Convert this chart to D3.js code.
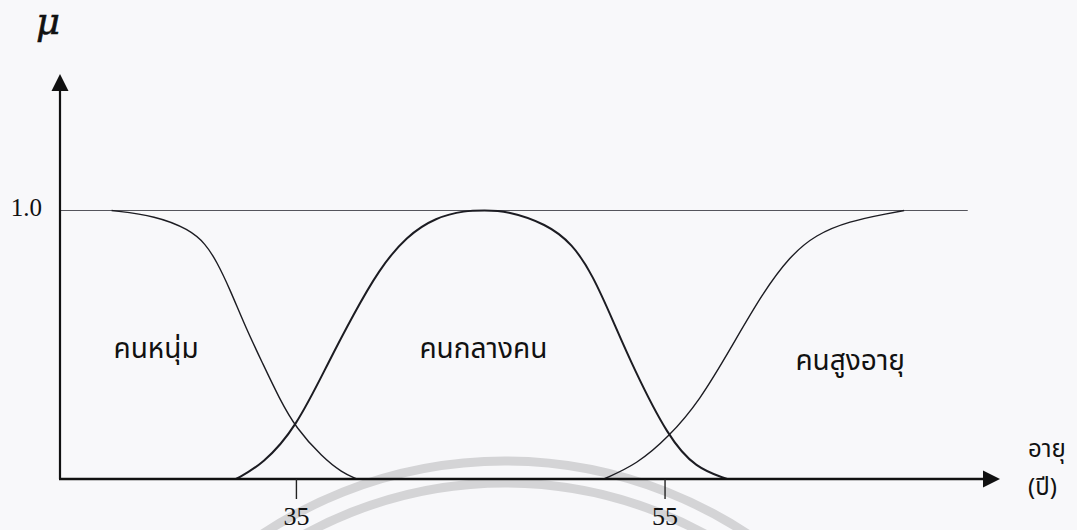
<!DOCTYPE html>
<html>
<head>
<meta charset="utf-8">
<script src="https://cdn.jsdelivr.net/npm/d3@7/dist/d3.min.js"></script>
<style>
  html, body { margin: 0; padding: 0; background: #f8f8fa; }
  svg { display: block; }
  .thai { font-family: "Noto Sans Thai", "Tahoma", "Noto Sans", sans-serif; }
  .serif { font-family: "Liberation Serif", "Times New Roman", serif; }
  .symbol { font-family: "DejaVu Serif", "Liberation Serif", serif; }
</style>
</head>
<body>
<svg id="chart" width="1077" height="530"></svg>
<script>
// Age axis ticks and membership-level tick
const ageTicks = [35, 55];
const muTicks = [1.0];

// Membership functions: age (years) and membership degree μ
const youngAge = [25.0, 27.4, 29.2, 30.1, 30.7, 31.4, 32.3, 33.2, 34.1, 35.0, 36.45, 37.5, 38.3];
const youngMu  = [1.0,  0.98, 0.93, 0.876, 0.81, 0.71, 0.56, 0.43, 0.30, 0.19, 0.08, 0.024, 0.0];

const middleAge = [31.75, 33.2, 35.0, 36.8, 38.1, 39.5, 41.0, 42.6, 44.2, 45.2, 46.4, 48.6, 50.0, 51.1, 52.2, 53.3, 55.2, 56.7, 58.4];
const middleMu  = [0.0,   0.055, 0.19, 0.44, 0.61, 0.78, 0.905, 0.975, 1.0, 1.0, 1.0, 0.95, 0.876, 0.76, 0.59, 0.415, 0.155, 0.04, 0.0];

const oldAge = [51.7, 53.5, 55.2, 56.9, 58.7, 60.3, 61.8, 63.2, 65.0, 67.2, 68.0];
const oldMu  = [0.0,  0.055, 0.155, 0.29, 0.50, 0.69, 0.83, 0.91, 0.96, 0.99, 1.0];

// Category labels: text, age of the label's left edge and its μ level
const groupNames = ["คนหนุ่ม", "คนกลางคน", "คนสูงอายุ"];
const groupLabelAge = [25.1, 41.7, 62.1];
const groupLabelMu = [0.45, 0.45, 0.406];

// Age at which the full-membership reference line stops
const fullLineEnd = 71.45;

const svg = d3.select("#chart");

const x = d3.scaleLinear().domain([22.2, 73.2]).range([60, 1000]);
const y = d3.scaleLinear().domain([0, 1]).range([479, 210.5]);

// Faint rings in the background
const rings = svg.append("g").attr("fill", "none").attr("stroke", "#d4d4d6").attr("stroke-width", 9);
[439, 417].forEach(r => {
  rings.append("circle").attr("cx", 505).attr("cy", 900).attr("r", r);
});

// Full-membership reference line at μ = 1.0
svg.append("line")
  .attr("x1", x.range()[0]).attr("x2", x(fullLineEnd))
  .attr("y1", y(1)).attr("y2", y(1))
  .attr("stroke", "#55555c").attr("stroke-width", 1.1);

// Membership curves
const line = d3.line()
  .x(d => x(d[0]))
  .y(d => y(d[1]))
  .curve(d3.curveBasis);

const series = [
  { age: youngAge, mu: youngMu, w: 1.4 },
  { age: middleAge, mu: middleMu, w: 2.0 },
  { age: oldAge, mu: oldMu, w: 1.4 }
];
series.forEach(s => {
  svg.append("path")
    .datum(d3.zip(s.age, s.mu))
    .attr("d", line)
    .attr("fill", "none")
    .attr("stroke", "#1c1c22")
    .attr("stroke-width", s.w);
});

// Horizontal age axis with arrow
const x0 = x.range()[0], x1 = x.range()[1], yb = y(0);
svg.append("line")
  .attr("x1", x0 - 1).attr("x2", x1 - 12)
  .attr("y1", yb).attr("y2", yb)
  .attr("stroke", "#111").attr("stroke-width", 2.6);
svg.append("path")
  .attr("d", `M${x1},${yb} L${x1 - 17},${yb - 8.5} L${x1 - 17},${yb + 8.5} Z`)
  .attr("fill", "#111");

// Vertical membership axis with arrow
const yt = 74;
svg.append("line")
  .attr("x1", x0).attr("x2", x0)
  .attr("y1", yb).attr("y2", yt + 12)
  .attr("stroke", "#111").attr("stroke-width", 2.2);
svg.append("path")
  .attr("d", `M${x0},${yt} L${x0 - 8.5},${yt + 17} L${x0 + 8.5},${yt + 17} Z`)
  .attr("fill", "#111");

// Age ticks below the axis
const xAxis = d3.axisBottom(x).tickValues(ageTicks).tickSize(20).tickPadding(8).tickFormat(d3.format("d"));
const gx = svg.append("g").attr("transform", `translate(0,${yb})`).call(xAxis);
gx.select(".domain").remove();
gx.selectAll(".tick line").attr("stroke", "#222").attr("stroke-width", 1.4);
gx.selectAll(".tick text")
  .attr("class", "serif")
  .attr("font-size", 26)
  .attr("fill", "#111");

// μ level label
const yAxis = d3.axisLeft(y).tickValues(muTicks).tickSize(0).tickPadding(18).tickFormat(d3.format(".1f"));
const gy = svg.append("g").attr("transform", `translate(${x0},0)`).call(yAxis);
gy.select(".domain").remove();
gy.selectAll(".tick text")
  .attr("class", "serif")
  .attr("font-size", 25)
  .attr("dy", "0.18em")
  .attr("fill", "#111");

// Axis titles
svg.append("text")
  .attr("class", "symbol")
  .attr("x", 36).attr("y", 34)
  .attr("font-size", 37)
  .attr("font-style", "italic")
  .attr("stroke", "#111")
  .attr("stroke-width", 0.6)
  .attr("fill", "#111")
  .text("μ");

svg.append("text")
  .attr("class", "thai")
  .attr("x", 1028).attr("y", 457)
  .attr("font-size", 24)
  .attr("fill", "#111")
  .text("อายุ");
svg.append("text")
  .attr("class", "thai")
  .attr("x", 1028).attr("y", 495)
  .attr("font-size", 24)
  .attr("fill", "#111")
  .text("(ปี)");

// Group labels
groupNames.forEach((name, i) => {
  svg.append("text")
    .attr("class", "thai")
    .attr("x", x(groupLabelAge[i]))
    .attr("y", y(groupLabelMu[i]))
    .attr("font-size", 28)
    .attr("fill", "#111")
    .text(name);
});
</script>
</body>
</html>
